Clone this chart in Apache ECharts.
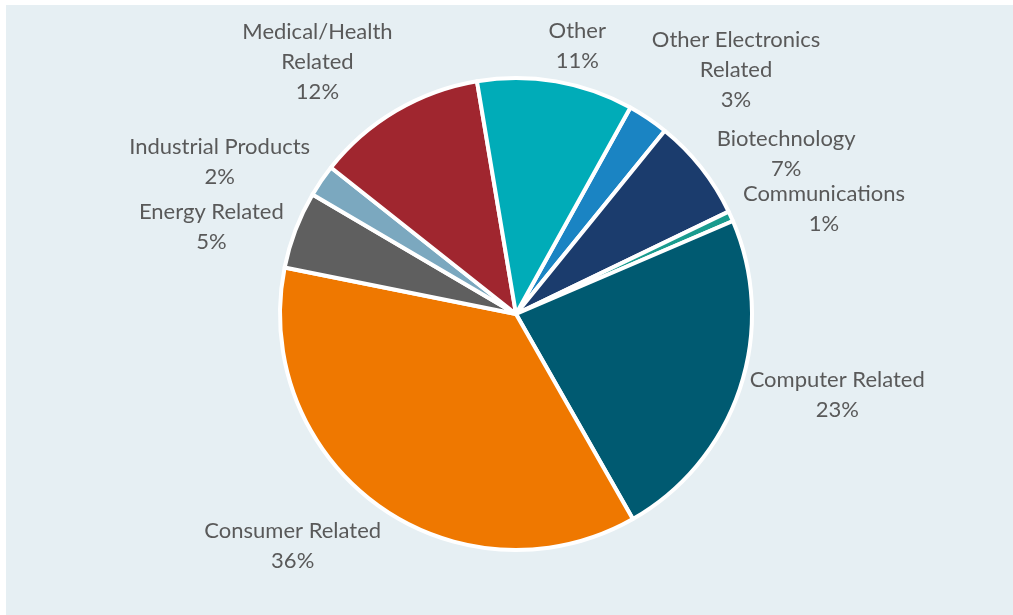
<!DOCTYPE html>
<html>
<head>
<meta charset="utf-8">
<script src="https://cdn.jsdelivr.net/npm/echarts@6/dist/echarts.min.js"></script>
<style>
html,body{margin:0;padding:0;background:#fff;}
#main{position:absolute;left:6px;top:5px;width:1007px;height:610px;background:#e6eff3;}
</style>
</head>
<body>
<div id="main"></div>
<script>
// slices, clockwise from the top
var names = ['Other Electronics\nRelated', 'Biotechnology', 'Communications', 'Computer Related',
  'Consumer Related', 'Energy Related', 'Industrial Products', 'Medical/Health\nRelated', 'Other']
var values = [2.8, 7.0, 0.7, 23.2, 36.4, 5.3, 2.2, 11.7, 10.7]
var colors = ['#1a84c3', '#1b3c6d', '#199b8e', '#005a71', '#ef7800', '#5f5f5f', '#7ba8bf', '#a0262f', '#00acb8']

var firstAngle = 29 // degrees clockwise from 12 o'clock
var cx = 510, cy = 309, R = 236

var total = 0
for (var i = 0; i < values.length; i++) total += values[i]
var mids = []
var acc = firstAngle
for (var i = 0; i < values.length; i++) {
    var span = values[i] / total * 360
    mids.push(acc + span / 2)
    acc += span
}

var seriesData = []
for (var i = 0; i < names.length; i++) {
    seriesData.push({name: names[i], value: values[i], itemStyle: {color: colors[i]}})
}

var myChart = echarts.init(document.getElementById('main'))
var option = {
    animation: false,
    series: [{
        type: 'pie',
        center: [cx, cy],
        radius: [0, R],
        startAngle: 90 - firstAngle,
        clockwise: true,
        avoidLabelOverlap: false,
        itemStyle: {borderColor: '#ffffff', borderWidth: 4},
        label: {
            show: true,
            position: 'outside',
            color: '#595959',
            fontFamily: 'Lato',
            fontSize: 22,
            lineHeight: 30,
            align: 'center',
            formatter: function (p) {
                return p.name + '\n' + Math.round(p.value / total * 100) + '%'
            }
        },
        labelLine: {show: false},
        // labels sit just outside the slice, a bit flattened toward the sides
        labelLayout: function (p) {
            var a = mids[p.dataIndex] * Math.PI / 180
            var ux = Math.sin(a), uy = -Math.cos(a) * 0.75
            var n = Math.sqrt(ux * ux + uy * uy)
            ux /= n; uy /= n
            var w = p.labelRect.width, h = p.labelRect.height
            var d = R + 3 + Math.abs(ux) * w / 2 + Math.abs(uy) * h / 2
            return {x: cx + ux * d, y: cy + uy * d, align: 'center', verticalAlign: 'middle'}
        },
        emphasis: {disabled: true},
        data: seriesData
    }]
}
myChart.setOption(option)
</script>
</body>
</html>
